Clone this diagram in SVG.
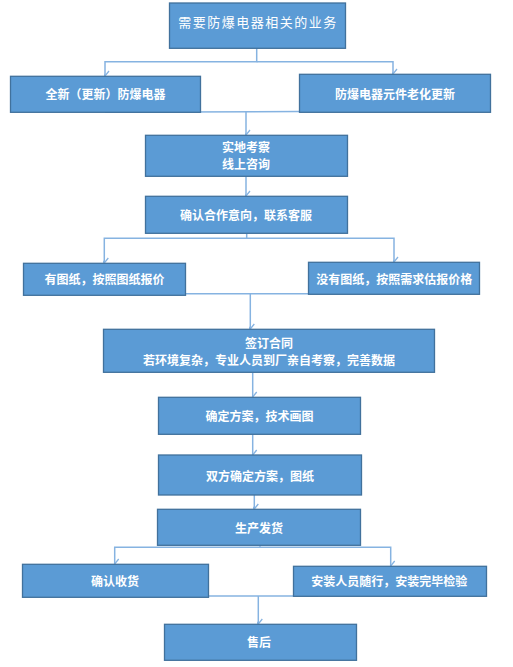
<svg xmlns="http://www.w3.org/2000/svg" width="513" height="667" viewBox="0 0 513 667">
<defs>
<marker id="arr" viewBox="-6 -7 12 8" refX="0" refY="0" markerWidth="12" markerHeight="8" markerUnits="userSpaceOnUse" orient="auto-start-reverse">
<path d="M-4,-5 L0,0 L4,-5" transform="rotate(-90)" fill="none" stroke="#86B3E1" stroke-width="1.3"/>
</marker>
<style>
.box{fill:#5B9BD5;stroke:#41719C;stroke-width:1.3}
.t{font-family:"Noto Sans CJK SC","Noto Sans",sans-serif;font-size:12px;font-weight:bold;fill:#FFFFFF;text-anchor:middle}
.t1{font-family:"Noto Sans CJK SC","Noto Sans",sans-serif;font-size:13px;letter-spacing:1.5px;fill:#FFFFFF;text-anchor:middle}
.c{fill:none;stroke:#86B3E1;stroke-width:1.5}
</style>
</defs>
<rect width="513" height="667" fill="#FFFFFF"/>
<g id="connectors">
<path class="c" d="M256.7,48.3 V61.7 H105 V76" marker-end="url(#arr)"/>
<path class="c" d="M256.7,61.7 H393 V74" marker-end="url(#arr)"/>
<path class="c" d="M105,112.3 L300,111.5"/>
<path class="c" d="M246,112 V135" marker-end="url(#arr)"/>
<path class="c" d="M246,176.3 V196" marker-end="url(#arr)"/>
<path class="c" d="M246.7,233.3 V238.3 H104.3 V263" marker-end="url(#arr)"/>
<path class="c" d="M246.7,238.3 H394 V262" marker-end="url(#arr)"/>
<path class="c" d="M185,293.7 H308.5"/>
<path class="c" d="M250.3,293.7 V329" marker-end="url(#arr)"/>
<path class="c" d="M252.7,372.3 V397" marker-end="url(#arr)"/>
<path class="c" d="M252.7,434.3 V455" marker-end="url(#arr)"/>
<path class="c" d="M254.3,495 V509" marker-end="url(#arr)"/>
<path class="c" d="M260,545.3 V547.3 H114.7 V564" marker-end="url(#arr)"/>
<path class="c" d="M260,547.3 H390.7 V566" marker-end="url(#arr)"/>
<path class="c" d="M208,596 H318"/>
<path class="c" d="M258.3,596 V624" marker-end="url(#arr)"/>
</g>
<g id="n1"><rect class="box" x="169.5" y="3" width="176" height="45.3"/><text class="t1" x="258" y="26.8">需要防爆电器相关的业务</text></g>
<g id="n2"><rect class="box" x="10.5" y="76.3" width="190" height="36"/><text class="t" x="105.5" y="99.2">全新（更新）防爆电器</text></g>
<g id="n3"><rect class="box" x="299.5" y="74.3" width="191" height="38"/><text class="t" x="395" y="99.2">防爆电器元件老化更新</text></g>
<g id="n4"><rect class="box" x="145.5" y="135.3" width="202" height="41"/><text class="t" x="246" y="152.3">实地考察</text><text class="t" x="246" y="168.6">线上咨询</text></g>
<g id="n5"><rect class="box" x="145.5" y="196.3" width="202" height="37"/><text class="t" x="246" y="219.6">确认合作意向，联系客服</text></g>
<g id="n6"><rect class="box" x="23.5" y="263.3" width="162" height="32"/><text class="t" x="104.5" y="283.6">有图纸，按照图纸报价</text></g>
<g id="n7"><rect class="box" x="308.5" y="262.3" width="171" height="32"/><text class="t" x="394.3" y="283.6">没有图纸，按照需求估报价格</text></g>
<g id="n8"><rect class="box" x="103.5" y="329.3" width="331" height="43"/><text class="t" x="269" y="347.9">签订合同</text><text class="t" x="269" y="364.6">若环境复杂，专业人员到厂亲自考察，完善数据</text></g>
<g id="n9"><rect class="box" x="158.5" y="397.3" width="202" height="37"/><text class="t" x="259.5" y="421.3">确定方案，技术画图</text></g>
<g id="n10"><rect class="box" x="158.5" y="455" width="203" height="40"/><text class="t" x="260" y="481.3">双方确定方案，图纸</text></g>
<g id="n11"><rect class="box" x="157.5" y="509.3" width="203" height="36"/><text class="t" x="259" y="532.9">生产发货</text></g>
<g id="n12"><rect class="box" x="22.5" y="564.3" width="186" height="33"/><text class="t" x="115" y="585.6">确认收货</text></g>
<g id="n13"><rect class="box" x="293.5" y="566.3" width="193" height="30"/><text class="t" x="389.3" y="585.6">安装人员随行，安装完毕检验</text></g>
<g id="n14"><rect class="box" x="164.5" y="624.3" width="192" height="36"/><text class="t" x="259" y="646.9">售后</text></g>
</svg>
